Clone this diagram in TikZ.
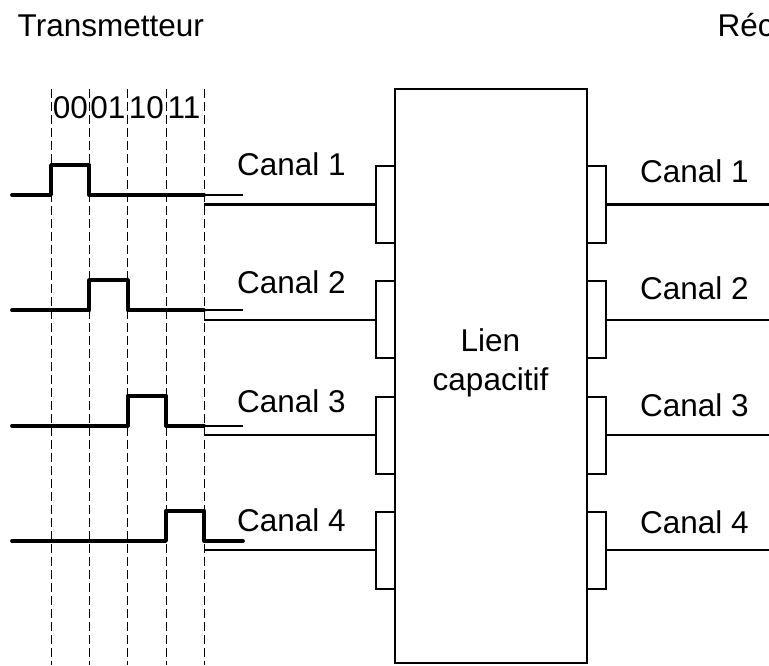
\documentclass[tikz,border=0pt]{standalone}
\usepackage{fontspec}
\setmainfont{Liberation Sans}
\begin{document}
\begin{tikzpicture}[x=1pt,y=-1pt,
  wire/.style={line width=2.1pt},
  sig/.style={line width=3.8pt, line cap=round, line join=round},
  gridline/.style={line width=0.9pt, dash pattern=on 9pt off 4pt},
  txt/.style={font=\fontsize{31.5}{39}\selectfont, inner sep=0pt},
  lbl/.style={txt, anchor=base west},
  plate/.style={draw, line width=2.1pt, minimum width=19pt, minimum height=77pt, inner sep=0pt, outer sep=0pt, anchor=north west}
]
\useasboundingbox (0,0) rectangle (769,665);

% titles
\node[lbl] (tx) at (17.5,36) {Transmetteur};
\node[lbl] (rx) at (717.5,36) {Réc};

% time grid
\foreach \i/\x in {0/51,1/89.3,2/127.6,3/166,4/204}{
  \draw[gridline] (\x,89) -- (\x,665);
}
\foreach \t/\x in {00/70.5,01/108,10/146.5,11/184}{
  \node[txt, anchor=base] (b\t) at (\x,118) {\t};
}

% central box
\node[draw, line width=2.1pt, minimum width=192pt, minimum height=574pt,
      inner sep=0pt, outer sep=0pt, anchor=north west] (box) at (395,89) {};
\node[txt, align=center] (lien) at (490.5,363) {Lien\\capacitif};

\foreach \k in {1,2,3,4}{
  \pgfmathsetmacro{\yb}{195+115.3*(\k-1)}
  \pgfmathsetmacro{\yh}{\yb-30}
  \pgfmathsetmacro{\xa}{51+38.3*(\k-1)}
  \pgfmathsetmacro{\xb}{\xa+38.3}
  \pgfmathsetmacro{\yp}{166+115.3*(\k-1)}
  \pgfmathsetmacro{\yl}{175+118.7*(\k-1)}
  \pgfmathsetmacro{\yr}{182+117*(\k-1)}
  % signal
  \ifnum\k=4
    \draw[sig] (12,\yb) -- (\xa,\yb) -- (\xa,\yh) -- (\xb,\yh) -- (\xb,\yb) -- (243,\yb);
  \else
    \draw[sig] (12,\yb) -- (\xa,\yb) -- (\xa,\yh) -- (\xb,\yh) -- (\xb,\yb) -- (204,\yb);
    \draw[wire] (204,\yb) -- (243,\yb);
  \fi
  % plates
  \node[plate] (pl\k) at (376,\yp) {};
  \node[plate] (pr\k) at (587,\yp) {};
  \coordinate (s\k) at (204,\yp+38.5);
  \coordinate (e\k) at (769,\yp+38.5);
  \draw[wire] (s\k) -- (pl\k.west);
  \draw[wire] (pr\k.east) -- (e\k);
  % labels
  \node[lbl] (cl\k) at (237,\yl) {Canal \k};
  \node[lbl] (cr\k) at (640,\yr) {Canal \k};
}
\end{tikzpicture}
\end{document}
